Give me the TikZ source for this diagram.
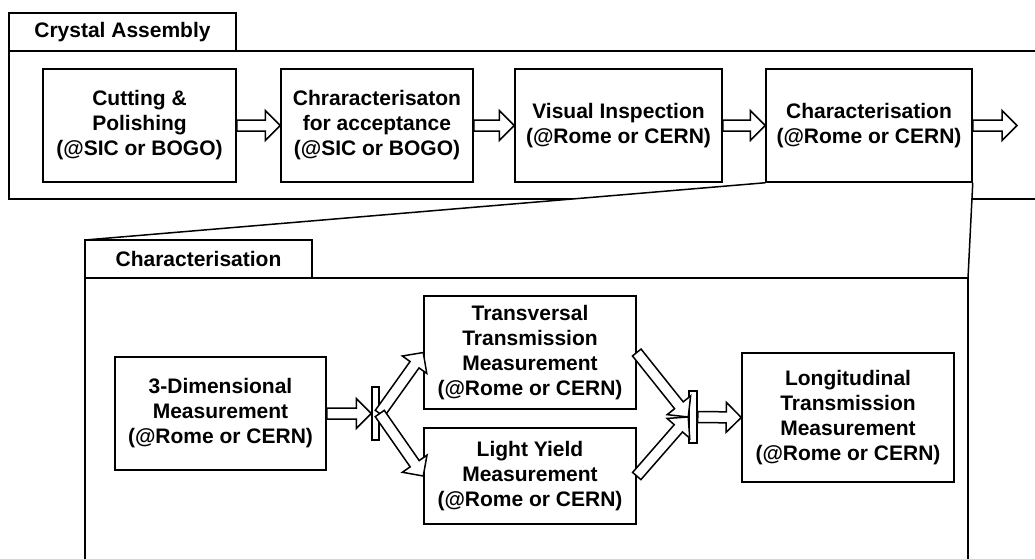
\documentclass[tikz,border=0pt]{standalone}
\usepackage{fontspec}
\setmainfont{Liberation Sans}
\usetikzlibrary{calc,backgrounds}

% hollow block arrow from #1 to #2 (tip at #2)
\newcommand\arrShaft{5.5pt}
\newcommand\arrHead{15pt}
\newcommand\arrLen{15pt}
\newcommand\blockarrow[2]{%
  \coordinate (ba-n) at ($(#2)!\arrLen!(#1)$);
  \draw[blockarrow]
    ($(#1)!\arrShaft!90:(#2)$) -- ($(ba-n)!\arrShaft!90:(#2)$) --
    ($(ba-n)!\arrHead!90:(#2)$) -- (#2) --
    ($(ba-n)!\arrHead!-90:(#2)$) -- ($(ba-n)!\arrShaft!-90:(#2)$) --
    ($(#1)!\arrShaft!-90:(#2)$) -- cycle;}

\begin{document}
\begin{tikzpicture}[x=1pt,y=-1pt,
  txt/.style={font=\fontsize{21}{25}\selectfont\bfseries},
  stage/.style={txt, draw, line width=1.5pt, fill=white, align=center, inner sep=0pt},
  bar/.style={draw, line width=1.5pt, fill=white, inner sep=0pt},
  frameline/.style={draw, line width=1.5pt},
  blockarrow/.style={draw, fill=white, line width=1.5pt, line join=miter}]

\useasboundingbox (0,0) rectangle (1035,558);
\clip (0,0) rectangle (1035,558);

% outer frame: crystal assembly
\begin{scope}[on background layer]
  \draw[frameline] (9,13) rectangle (236,51);
  \draw[frameline] (9,51) rectangle (1060,199);
\end{scope}
\node[txt] (catitle) at (122.5,32) {Crystal Assembly};

% assembly stages
\node[stage, minimum width=193pt, minimum height=113pt] (b1) at (139.5,125.5)
  {Cutting \&\\Polishing\\(@SIC or BOGO)};
\node[stage, minimum width=192pt, minimum height=113pt] (b2) at (377,125.5)
  {Chraracterisaton\\for acceptance\\(@SIC or BOGO)};
\node[stage, minimum width=207pt, minimum height=113pt] (b3) at (618.5,125.5)
  {Visual Inspection\\(@Rome or CERN)};
\node[stage, minimum width=206pt, minimum height=113pt] (b4) at (869,125.5)
  {Characterisation\\(@Rome or CERN)};
\coordinate (out) at (1017,125.5);

\blockarrow{b1.east}{b2.west}
\blockarrow{b2.east}{b3.west}
\blockarrow{b3.east}{b4.west}
\blockarrow{b4.east}{out}

% detail frame: characterisation
\coordinate (ch-tl) at (85,240);
\coordinate (ch-tr) at (968,278);
\begin{scope}[on background layer]
  \fill[white] (b4.south west) -- (b4.south east) -- (ch-tr) -- (85,278) -- (ch-tl) -- cycle;
\end{scope}
\draw[frameline] (b4.south west) -- (ch-tl);
\draw[frameline] (b4.south east) -- (ch-tr);
\draw[frameline] (ch-tl) rectangle (312,278);
\draw[frameline] (85,278) rectangle (968,600);
\node[txt] (chtitle) at (198.5,259) {Characterisation};

% characterisation steps
\node[stage, minimum width=211pt, minimum height=113pt] (dim) at (220.5,413.5)
  {3-Dimensional\\Measurement\\(@Rome or CERN)};
\node[stage, minimum width=212pt, minimum height=113pt] (tt) at (530,352.5)
  {Transversal\\Transmission\\Measurement\\(@Rome or CERN)};
\node[stage, minimum width=212pt, minimum height=96pt] (ly) at (530,476)
  {Light Yield\\Measurement\\(@Rome or CERN)};
\node[stage, minimum width=212pt, minimum height=129pt] (lt) at (848,417.5)
  {Longitudinal\\Transmission\\Measurement\\(@Rome or CERN)};

% fork and join bars
\node[bar, minimum width=7pt, minimum height=53pt] (fork) at (375.5,413.5) {};
\node[bar, minimum width=8pt, minimum height=52pt] (join) at (693,417) {};

\blockarrow{dim.east}{fork.west}
\blockarrow{fork.east}{tt.west}
\blockarrow{fork.east}{ly.west}
\blockarrow{tt.east}{join.west}
\blockarrow{ly.east}{join.west}
\blockarrow{join.east}{lt.west}
\end{tikzpicture}
\end{document}
